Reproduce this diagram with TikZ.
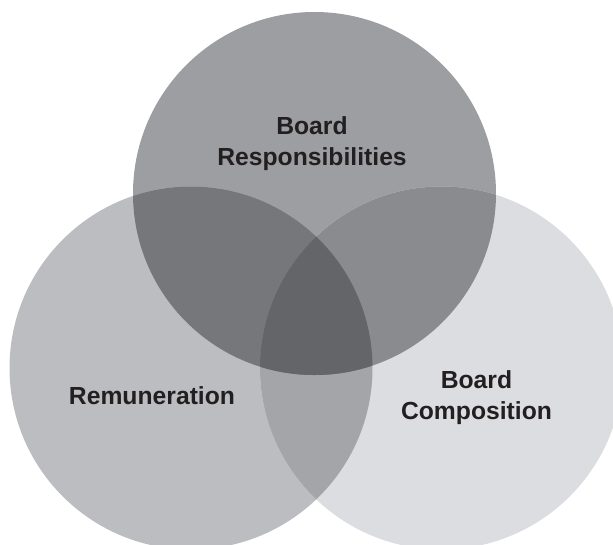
\documentclass[tikz,border=0pt]{standalone}
\usepackage{fontspec}
\setmainfont{Liberation Sans}
\usepackage{tikz}

\definecolor{respgray}{HTML}{9D9EA2}
\definecolor{remgray}{HTML}{BCBDC0}
\definecolor{compgray}{HTML}{DCDDE0}
\definecolor{resremgray}{HTML}{76777B}
\definecolor{rescompgray}{HTML}{8A8B8F}
\definecolor{remcompgray}{HTML}{A4A5A8}
\definecolor{allgray}{HTML}{646569}
\definecolor{textgray}{HTML}{231F20}

\tikzset{venntext/.style={font=\bfseries\fontsize{24.7}{31}\selectfont,
    text=textgray, align=center, inner sep=0pt, anchor=base}}

\begin{document}
\begin{tikzpicture}[x=1pt,y=-1pt]
            \useasboundingbox (0,0) rectangle (613,544);
            \clip (0,0) rectangle (613,544);

            \coordinate (R) at (314.5,193.5);
            \coordinate (M) at (191,368);
            \coordinate (C) at (441.5,368);
            \def\rad{181.5pt}

            \fill[respgray] (R) circle[radius=\rad];
            \fill[remgray] (M) circle[radius=\rad];
            \fill[compgray] (C) circle[radius=\rad];

            \begin{scope}
                \clip (M) circle[radius=\rad];
                \fill[remcompgray] (C) circle[radius=\rad];
            \end{scope}
            \begin{scope}
                \clip (R) circle[radius=\rad];
                \fill[resremgray] (M) circle[radius=\rad];
                \fill[rescompgray] (C) circle[radius=\rad];
                \clip (M) circle[radius=\rad];
                \fill[allgray] (C) circle[radius=\rad];
            \end{scope}

            \node[venntext] (resp) at (312,165) {Board\\Responsibilities};
            \node[venntext] (rem) at (152,404.2) {Remuneration};
            \node[venntext] (comp) at (476.5,419.5) {Board\\Composition};
\end{tikzpicture}
\end{document}
